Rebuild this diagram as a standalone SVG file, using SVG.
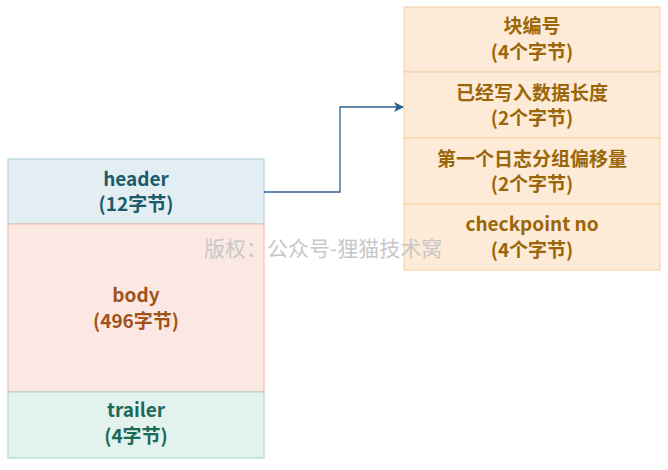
<svg xmlns="http://www.w3.org/2000/svg" width="668" height="470" viewBox="0 0 668 470">
<style>
text{font-family:"Noto Sans CJK SC","Noto Sans",sans-serif;font-size:19px;font-weight:bold;text-anchor:middle}
.h rect{fill:#e3eef2;stroke:#a9cdd9}
.h text{fill:#1c5a6d}
.b rect{fill:#fce8e2;stroke:#efbca9}
.b text{fill:#a0521c}
.t rect{fill:#e3f2ed;stroke:#a5d4c7}
.t text{fill:#1a6a57}
.r rect{fill:#fdebd7;stroke:#f5d0a5}
.r text{fill:#9b6608}
.wm{fill:#c8c8c8;font-weight:normal;font-size:21px;text-anchor:start}
</style>
<defs>
<marker id="arr" viewBox="0 0 10 10" refX="9" refY="5" markerWidth="10" markerHeight="10" markerUnits="userSpaceOnUse" orient="auto">
<path d="M0,0 L10,5 L0,10 L2.5,5 Z" fill="#2a6391"/>
</marker>
</defs>
<g id="header" class="h"><rect x="8" y="159" width="256" height="65"/><text x="136" y="186">header</text><text x="136" y="211">(12字节)</text></g>
<g id="body" class="b"><rect x="8" y="224" width="256" height="168"/><text x="136" y="302">body</text><text x="136" y="328">(496字节)</text></g>
<g id="trailer" class="t"><rect x="8" y="392" width="256" height="66"/><text x="136" y="417">trailer</text><text x="136" y="443">(4字节)</text></g>
<g id="r1" class="r"><rect x="404" y="7" width="256" height="65"/><text x="532" y="33">块编号</text><text x="532" y="59">(4个字节)</text></g>
<g id="r2" class="r"><rect x="404" y="72" width="256" height="66"/><text x="532" y="100">已经写入数据长度</text><text x="532" y="125">(2个字节)</text></g>
<g id="r3" class="r"><rect x="404" y="138" width="256" height="66"/><text x="532" y="166">第一个日志分组偏移量</text><text x="532" y="191">(2个字节)</text></g>
<g id="r4" class="r"><rect x="404" y="204" width="256" height="66"/><text x="532" y="231">checkpoint no</text><text x="532" y="257">(4个字节)</text></g>
<g id="connectors"><path d="M264,192 H340 V107 H403" fill="none" stroke="#2a6391" stroke-width="1.3" marker-end="url(#arr)"/></g>
<text class="wm" x="204" y="256">版权：公众号-狸猫技术窝</text>
</svg>
